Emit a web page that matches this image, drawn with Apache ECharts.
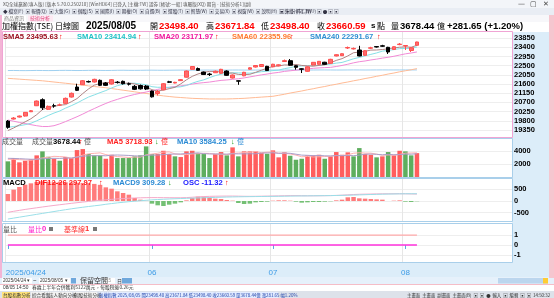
<!DOCTYPE html>
<html><head><meta charset="utf-8">
<script src="https://cdn.jsdelivr.net/npm/echarts@6/dist/echarts.min.js"></script>
<style>html,body{margin:0;padding:0;background:#fff;}#c{width:554px;height:298px;}</style>
</head><body><div id="c"></div>
<script>
// ---------------- DATA ----------------
const dates = ['2025/04/24','2025/04/25','2025/04/28','2025/04/29','2025/04/30',
'2025/05/02','2025/05/05','2025/05/06','2025/05/07','2025/05/08','2025/05/09','2025/05/12','2025/05/13','2025/05/14','2025/05/15','2025/05/16','2025/05/19','2025/05/20','2025/05/21','2025/05/22','2025/05/23','2025/05/26','2025/05/27','2025/05/28','2025/05/29',
'2025/06/02','2025/06/03','2025/06/04','2025/06/05','2025/06/06','2025/06/09','2025/06/10','2025/06/11','2025/06/12','2025/06/13','2025/06/16','2025/06/17','2025/06/18','2025/06/19','2025/06/20','2025/06/23','2025/06/24','2025/06/25','2025/06/26','2025/06/27','2025/06/30',
'2025/07/01','2025/07/02','2025/07/03','2025/07/04','2025/07/07','2025/07/08','2025/07/09','2025/07/10','2025/07/11','2025/07/14','2025/07/15','2025/07/16','2025/07/17','2025/07/18','2025/07/21','2025/07/22','2025/07/23','2025/07/24','2025/07/25','2025/07/28','2025/07/29','2025/07/30','2025/07/31',
'2025/08/01','2025/08/04','2025/08/05'];
const futureSlots = ['f1','f2','f3','f4','f5','f6','f7','f8','f9','f10','f11','f12','f13','f14','f15','f16'];

const openP = [19788,19886,19984,20033,20244,20538,20832,20361,20538,20572,20655,20964,21454,21567,21723,21699,21782,21650,21601,21694,21733,21611,21488,21527,21503,21258,21135,21317,21709,21650,21767,21934,22321,22360,22189,22091,22154,22125,22238,21896,21758,22003,22327,22434,22458,22468,22444,22493,22703,22743,22498,22346,22223,22532,22566,22669,22615,22973,22988,23365,23321,23267,23007,23355,23434,23473,23399,23291,23532,23463,23243,23498.40];
const highP = [19837,19984,20057,20229,20327,20792,20900,20547,20636,20645,20939,21184,21616,21797,21772,21861,21821,21699,21846,21748,21772,21674,21552,21576,21552,21282,21307,21650,21758,21709,21846,22262,22483,22409,22213,22150,22262,22346,22272,22067,21772,22199,22420,22532,22581,22493,22591,22566,22801,22826,22522,22370,22468,22679,22728,22689,22836,23061,23105,23438,23389,23473,23257,23424,23463,23522,23424,23448,23610,23512,23389,23671.84];
const lowP = [19410,19861,19959,20008,20229,20523,20327,20327,20440,20523,20621,20939,21258,21552,21674,21674,21503,21503,21576,21625,21576,21527,21307,21331,21307,20939,21037,21297,21650,21635,21748,21919,22311,22248,22042,21993,22140,22115,22003,21871,21562,21984,22311,22409,22434,22238,22424,22468,22689,22507,22302,22140,22199,22517,22557,22542,22601,22958,22973,23316,23291,22958,22993,23316,23389,23424,23071,23277,23502,23267,23169,23498.40];
const closeP = [19479,19935,20033,20214,20293,20768,20440,20508,20528,20577,20900,21145,21292,21763,21704,21831,21537,21537,21812,21674,21616,21596,21341,21366,21356,20974,21233,21616,21689,21684,21816,22238,22458,22272,22066,22066,22228,22321,22027,22042,21743,22175,22396,22508,22557,22262,22571,22542,22747,22522,22419,22326,22444,22664,22713,22566,22811,23037,23086,23389,23345,22973,23233,23375,23414,23453,23169,23429,23556,23487,23378.94,23660.59];

const sma5 = [19320,19450,19600,19750,19900,20100,20350,20445,20507,20564,20591,20732,20888,21135,21361,21547,21625,21674,21684,21678,21635,21647,21608,21519,21455,21327,21254,21309,21374,21439,21608,21809,21977,22094,22170,22220,22218,22191,22142,22137,22072,22062,22077,22173,22276,22380,22459,22488,22536,22529,22560,22511,22492,22475,22513,22543,22640,22758,22843,22978,23134,23166,23205,23263,23268,23290,23329,23368,23404,23419,23404,23495.63];
const sma10 = [19480,19520,19560,19610,19680,19800,19930,20060,20180,20280,20420,20540,20670,20820,20963,21069,21179,21281,21410,21520,21591,21636,21641,21601,21567,21471,21441,21448,21436,21447,21467,21531,21643,21734,21805,21914,22013,22084,22118,22153,22146,22140,22134,22157,22206,22226,22260,22282,22354,22402,22470,22485,22490,22505,22521,22551,22575,22625,22659,22746,22838,22903,22982,23053,23123,23212,23247,23287,23334,23343,23347,23414.94];
const sma20 = [19840,19780,19720,19670,19610,19560,19520,19520,19560,19650,19760,19880,20000,20130,20270,20400,20530,20650,20760,20850,20940,21020,21090,21150,21210,21270,21340,21390,21440,21480,21510,21550,21600,21640,21670,21697,21740,21780,21800,21830,21860,21900,21950,22000,22050,22090,22137,22170,22220,22250,22280,22312,22340,22370,22390,22405,22418,22460,22510,22570,22640,22694,22730,22780,22820,22870,22911,22960,23020,23080,23120,23171.97];
const sma60 = [21880,21860,21840,21820,21800,21780,21760,21730,21700,21670,21640,21610,21580,21550,21510,21480,21450,21420,21380,21340,21300,21260,21220,21180,21140,21100,21060,21020,20990,20960,20940,20920,20900,20890,20880,20870,20870,20870,20870,20880,20890,20900,20920,20940,20960,20980,21000,21050,21100,21160,21210,21260,21320,21370,21430,21480,21540,21590,21650,21700,21760,21810,21870,21920,21980,22030,22090,22140,22200,22250,22300,22355.96];
const sma240 = [22262,22265,22260,22258,22262,22266,22263,22260,22262,22268,22270,22266,22262,22265,22270,22272,22268,22265,22268,22274,22276,22272,22270,22273,22278,22280,22276,22274,22277,22281,22283,22280,22278,22281,22285,22286,22283,22281,22284,22287,22288,22285,22283,22285,22288,22290,22287,22285,22286,22289,22290,22288,22286,22287,22290,22291,22289,22287,22288,22290,22292,22290,22288,22289,22291,22292,22291,22290,22291,22292,22291,22291.67];

const volume = [2445,2940,2295,2535,2745,3345,3945,3135,2835,2535,3090,2940,4140,4290,3540,3345,3285,2835,3435,2940,2940,2940,3195,3345,4695,3540,3540,4035,3540,3195,3090,3945,4035,3690,3540,2940,3540,3840,3345,4545,3195,3945,3945,3945,3690,3585,4095,3045,3795,3285,2685,2835,3345,3345,3435,2835,3195,3840,3435,3795,3195,4440,3540,3435,3045,3195,3840,3345,4035,3945,3345,3678.44];
const volUp = [0,1,1,1,1,1,0,0,1,0,1,1,1,1,0,0,0,1,1,0,0,0,0,0,0,0,1,1,1,0,1,1,1,0,0,0,1,1,0,1,0,1,1,1,1,0,1,1,1,0,0,0,1,1,1,0,1,1,1,1,0,0,1,1,0,1,0,1,1,0,0,1];
const volMA5 = [2750,2750,2700,2650,2600,2770,2970,3040,3200,3160,3110,2910,3110,3380,3580,3650,3720,3460,3290,3170,3090,3020,3090,3070,3420,3540,3660,3830,3870,3570,3480,3460,3560,3590,3660,3630,3530,3510,3440,3640,3690,3770,3800,3920,3740,3820,3850,3670,3640,3560,3380,3130,3190,3100,3130,3160,3230,3330,3310,3430,3660,3740,3680,3680,3530,3350,3410,3370,3490,3670,3700,3718.93];
const volMA10 = [2900,2880,2850,2800,2760,2760,2830,2870,2900,2880,2940,2940,3070,3210,3290,3290,3310,3280,3370,3400,3370,3330,3280,3220,3360,3380,3390,3460,3520,3540,3550,3630,3660,3720,3610,3560,3560,3550,3530,3580,3570,3570,3580,3580,3690,3710,3730,3650,3690,3650,3520,3380,3350,3300,3330,3280,3250,3310,3300,3330,3300,3380,3520,3540,3500,3430,3500,3430,3460,3530,3520,3584.25];

const dif = [-483,-440,-400,-360,-325,-290,-255,-222,-190,-160,-130,-100,-72,-45,-18,8,30,50,70,90,105,118,128,136,142,145,145,142,140,138,138,145,160,175,188,198,204,208,210,210,206,200,198,200,204,208,213,218,224,228,228,225,222,222,224,227,231,238,248,262,276,286,292,297,302,306,307,309,311,308,303,297.97];
const macd9 = [-770,-730,-690,-650,-610,-570,-530,-490,-450,-410,-372,-335,-300,-267,-235,-205,-177,-140,-110,-80,-55,-30,-8,12,30,48,62,75,86,96,105,113,122,130,138,146,154,161,168,174,179,183,186,189,192,195,198,201,205,209,213,216,219,222,225,228,231,235,240,246,253,261,269,277,284,291,297,301,305,308,309,309.28];
const osc = [299,484,598,697,754,811,840,825,811,811,797,785,780,770,760,730,690,583,526,413,342,270,128,57,10,-114,-185,-213,-157,-114,-57,28,128,185,185,157,100,85,43,14,-85,-128,-114,-57,-43,-28,14,28,28,14,-28,-71,-57,-43,-43,-28,-14,28,57,157,170,114,100,85,70,57,0,14,28,-28,-43,-11.32];

const volRatio = [0,0,0,0,0,0,0,0,0,0,0,0,0,0,0,0,0,0,0,0,0,0,0,0,0,0,0,0,0,0,0,0,0,0,0,0,0,0,0,0,0,0,0,0,0,0,0,0,0,0,0,0,0,0,0,0,0,0,0,0,0,0,0,0,0,0,0,0,0,0,0,0];
const baseLine = [1,1,1,1,1,1,1,1,1,1,1,1,1,1,1,1,1,1,1,1,1,1,1,1,1,1,1,1,1,1,1,1,1,1,1,1,1,1,1,1,1,1,1,1,1,1,1,1,1,1,1,1,1,1,1,1,1,1,1,1,1,1,1,1,1,1,1,1,1,1,1,1];

const priceTicks = [19350,19800,20250,20700,21150,21600,22050,22500,22950,23400,23850];
const volTicks = [2000,4000];
const macdTicks = [-500,0,500];
const ratioTicks = [-1,0,1];

// ---------------- CHART ----------------
const cats = dates.concat(futureSlots);
const last = a => a[a.length-1];
const f2 = v => Number(v).toFixed(2);
// month-start slots that get a label (a month start too close to the first, full-date label is skipped)
const ms = new Set([0]);
dates.forEach((d,i)=>{ if(i>0 && d.slice(5,7)!==dates[i-1].slice(5,7) && i>=10) ms.add(i); });
const isMs = (i)=>ms.has(i);

const GL = 5, GW = 507;
const grids = [
  {left:GL, width:GW, top:32, height:105},
  {left:GL, width:GW, top:139, height:38.6},
  {left:GL, width:GW, top:179, height:42},
  {left:GL, width:GW, top:224, height:38}
].map(g=>Object.assign({show:false, containLabel:false, outerBoundsMode:'none'}, g));

function xa(g, bottom){
  return {type:'category', gridIndex:g, data:cats, boundaryGap:true,
    axisLine:{show:false},
    axisTick:{show:bottom, alignWithLabel:true, interval:isMs, length:4, lineStyle:{color:'#5aa8e0'}},
    axisLabel:{show:bottom, interval:isMs, hideOverlap:false, color:'#3d9be6', fontSize:8, fontFamily:'Liberation Sans', margin:7,
      formatter:(v,i)=> i===0 ? '{f|'+v+'}' : v.slice(5,7),
      rich:{f:{padding:[0,0,0,36], color:'#3d9be6', fontSize:8, fontFamily:'Liberation Sans'}}},
    splitLine:{show:true, interval:isMs, lineStyle:{color:'#e6e6e6', width:1}}};
}
function ya(g, min, max, ticks){
  return {type:'value', gridIndex:g, position:'right', min, max, scale:false,
    axisLine:{show:false}, axisTick:{show:false, customValues:ticks},
    axisLabel:{customValues:ticks, formatter:v=>String(v), color:'#000', fontWeight:'bold', fontSize:7.5, fontFamily:'Liberation Sans', margin:2},
    splitLine:{show:true, lineStyle:{color:'#eeeeee', width:1}}};
}
function line(name, data, color, xi, w){
  return {type:'line', name, data, xAxisIndex:xi, yAxisIndex:xi, symbol:'none', silent:true,
    lineStyle:{color, width:w||1}, z:3};
}

// graphic helpers
const R = (x,y,w,h,fill,z)=>({type:'rect', shape:{x,y,width:w,height:h}, style:{fill}, z:(z==null?-5:z), silent:true});
const F = (x,y,w,h,stroke)=>({type:'rect', shape:{x,y,width:w,height:h}, style:{fill:'none', stroke, lineWidth:1}, z:40, silent:true});
const T = (x,y,text,fill,font,z)=>({type:'text', x, y, style:{text, fill, font, verticalAlign:'middle'}, z:(z==null?50:z), silent:true});
const LAT = 'bold 7.6px "Liberation Sans"';
const HB = 'bold 9.5px "Liberation Sans"';
const CJ = (s)=> s+'px "Noto Sans CJK TC"';

const els = [
  R(0,0,554,8,'#f3f5f9'), R(0,8,554,7,'#e9edf4'), R(0,15,554,7,'#f7f7fa'),
  R(512,32,37,246,'#dcedf9'), R(2,262,510,15,'#dcedf9'),
  R(0,277,554,7,'#e6f1fb'), R(0,291,554,7,'#dde2ea'),
  R(0,15,2,263,'#f3b5d5'), R(549,15,5,263,'#f5c6cf'),
  R(0,284,554,0.8,'#f2a7b5'),
  F(2.5,31.5,510,106,'#f0a4d4'), F(2.5,138.5,510,39,'#a9cfea'), F(2.5,178.5,510,43,'#a9cfea'), F(2.5,223.5,510,39,'#a9cfea'),
  T(3,4,'XQ全球贏家(專人版) [版本 5.70.0.250210] [WinHD64] 已登入 [主機:TW] 證券 [帳號:一般] 專屬版(XQ) 期貨 - [技術分析1](副)','#555',CJ(4.6)),
  T(518,4,'—','#444','7px "DejaVu Sans"'), T(530,4,'▢','#444','7px "DejaVu Sans"'), T(543,4,'✕','#444','7px "DejaVu Sans"'),
  T(3,11.5,'◆ 檔案(F)  ▣ 報價(Q)  ▣ 大盤(G)  ▣ 個股(S)  ▣ 國際(I)  ▣ 期權(O)  ▣ 自選(B)  ▣ 選股(T)  ▣ 智慧(W)  ▣ 交易(X)  ▣ 視窗(W)  ▣ 說明(H)  ▣ 外掛  TSE.TW','#334',CJ(4.6)),
  T(280,11.5,'▣ ▣ 分析工具(U) ▣ ● ▣ ▣','#334',CJ(4.6)),
  R(2,15.5,24,6,'#ffffff',1), T(4,18.5,'商品資訊','#777',CJ(5)),
  R(28,15.5,25,6,'#fde9f2',1), T(30,18.5,'技術分析','#e0407a',CJ(5)),
  T(2,26,'加權指數(TSE)','#000',CJ(8)),
  T(55,26,'日線圖','#000',CJ(8)),
  T(86,26,dates[dates.length-1],'#000','bold 10px "Liberation Sans"'),
  T(150,26,'開','#000',CJ(8)), T(159,26,f2(last(openP)),'#ff0000',HB),
  T(206,26,'高','#000',CJ(8)), T(215,26,f2(last(highP)),'#ff0000',HB),
  T(261,26,'低','#000',CJ(8)), T(270,26,f2(last(lowP)),'#ff0000',HB),
  T(317,26,'收','#000',CJ(8)), T(326,26,f2(last(closeP)),'#ff0000',HB),
  T(371,26,'s','#000','bold 8px "Liberation Sans"'), T(377,26,'點','#000',CJ(8)),
  T(391,26,'量','#000',CJ(8)), T(400,26,f2(last(volume)),'#000',HB), T(437,26,'億','#000',CJ(8)),
  T(447,26,'+'+f2(last(closeP)-closeP[closeP.length-2])+' (+'+f2((last(closeP)/closeP[closeP.length-2]-1)*100)+'%)','#000',HB),
  T(3,36.5,'SMA5 '+f2(last(sma5)),'#9b1020',LAT), T(59,36.5,'↑','#ff0000',LAT),
  T(77,36.5,'SMA10 '+f2(last(sma10)),'#1fc2c6',LAT), T(138,36.5,'↑','#ff0000',LAT),
  T(154,36.5,'SMA20 '+f2(last(sma20)),'#f0169c',LAT), T(215,36.5,'↑','#ff0000',LAT),
  T(232,36.5,'SMA60 '+f2(last(sma60)),'#ff7a2e',LAT), T(290,36.5,'↑','#ff0000',LAT),
  T(310,36.5,'SMA240 '+f2(last(sma240)),'#2e8fd2',LAT), T(377,36.5,'↑','#ff0000',LAT),
  T(2,141.8,'成交量','#555',CJ(7)), T(32,141.8,'成交量','#555',CJ(7)),
  T(53,141.8,f2(last(volume)),'#000',LAT), T(79,141.8,'↑','#ff0000',LAT), T(84,141.8,'億','#555',CJ(7)),
  T(107,141.8,'MA5 '+f2(last(volMA5)),'#ff2020',LAT), T(155,141.8,'↓','#1a9a1a',LAT), T(161,141.8,'億','#ff2020',CJ(7)),
  T(177,141.8,'MA10 '+f2(last(volMA10)),'#2a8ad4',LAT), T(231,141.8,'↓','#1a9a1a',LAT), T(237,141.8,'億','#2a8ad4',CJ(7)),
  T(3,182.5,'MACD','#000',LAT),
  T(35,182.5,'DIF12-26 '+f2(last(dif)),'#ff2020',LAT), T(99,182.5,'↑','#ff0000',LAT),
  T(113,182.5,'MACD9 '+f2(last(macd9)),'#2a8ad4',LAT), T(168,182.5,'↓','#1a9a1a',LAT),
  T(183,182.5,'OSC '+f2(last(osc)),'#1a1aff',LAT), T(225,182.5,'↑','#ff0000',LAT),
  T(3,229,'量比','#555',CJ(7)),
  T(28,229,'量比','#ff22cc',CJ(7)), T(42,229,String(last(volRatio)),'#ff22cc',LAT), R(49,227,4,4,'#777',50),
  T(64,229,'基準線','#ff3030',CJ(7)), T(85,229,String(last(baseLine)),'#ff3030',LAT), R(93,227,4,4,'#777',50),
  R(2,278,30,5.5,'#ffffff',1), T(3,280.8,dates[0],'#333','4.6px "Liberation Sans"'), T(27,280.8,'▾','#333','5px "DejaVu Sans"'),
  T(33,280.8,'~','#333','6px "Liberation Sans"'),
  R(39,278,31,5.5,'#ffffff',1), T(40,280.8,dates[dates.length-1],'#333','4.6px "Liberation Sans"'), T(65,280.8,'▾','#333','5px "DejaVu Sans"'),
  R(71,278,5,5.5,'#6fa8dc',1),
  T(80,280.8,'保留空間','#333',CJ(7)),
  R(104,278,11,5.5,'#ffffff',1), T(106,280.8,'15','#999','4.6px "Liberation Sans"'),
  T(117,280.8,'日','#333',CJ(5)), R(122,278,10,5.5,'#6fa8dc',1),
  R(498,278,50,5.5,'#bcd6ee',1), R(543,278,5,5.5,'#ffcc33',2),
  T(3,287.6,'08/05 14:50','#333','4.8px "Liberation Sans"'),
  T(32,287.6,'春霖上半年合併獲利5122萬元，每股稅後0.26元','#333',CJ(4.8)),
  R(2,292,28,6,'#ffe27a',1), T(3,295,'台股指數分析','#333',CJ(4.6)),
  R(31,292,16,6,'#f2f2f2',1), T(32,295,'綜合看盤','#333',CJ(4.6)),
  R(48,292,24,6,'#f2f2f2',1), T(49,295,'法人動向分析','#333',CJ(4.6)),
  R(73,292,24,6,'#f2f2f2',1), T(74,295,'個股技術分析','#333',CJ(4.6)),
  R(98,292,180,6,'#e3ecff',1),
  T(99,295,'加權指數 2025/08/05 開23498.40 高23671.84 低23498.40 收23660.59 量3678.44億 漲281.65 幅1.20%','#2244aa',CJ(4.4)),
  T(407,295,'主畫面  主畫面  副畫面  主畫面(B)  ▣  ▣  ●  輸入  ▣  編輯  ▣  ▣  14:50:32','#333',CJ(4.4))
];

const chart = echarts.init(document.getElementById('c'), null, {renderer:'canvas'});
chart.setOption({
  animation:false,
  backgroundColor:'#ffffff',
  grid: grids,
  xAxis:[xa(0,false), xa(1,false), xa(2,false), xa(3,true)],
  yAxis:[ya(0,19007,24149,priceTicks), ya(1,0,5805,volTicks), ya(2,-854,939,macdTicks), ya(3,-1.72,2.12,ratioTicks)],
  series:[
    line('SMA240', sma240, '#9fd0f0', 0),
    line('SMA60', sma60, '#ffbb95', 0),
    line('SMA20', sma20, '#f28ad6', 0),
    line('SMA10', sma10, '#86e0e6', 0),
    line('SMA5', sma5, '#b08585', 0),
    {type:'candlestick', xAxisIndex:0, yAxisIndex:0, barWidth:4.2, silent:true, z:5,
      data: dates.map((d,i)=>[openP[i], closeP[i], lowP[i], highP[i]]),
      itemStyle:{color:'#ff6b6b', color0:'#000000', borderColor:'#ff5050', borderColor0:'#000000', borderWidth:1}},
    {type:'bar', xAxisIndex:1, yAxisIndex:1, barWidth:4.5, silent:true, z:2,
      data: volume.map((v,i)=>({value:v, itemStyle:{color: volUp[i] ? '#ff5e5e' : '#5eae5e'}}))},
    line('VMA5', volMA5, '#ffb0b0', 1),
    line('VMA10', volMA10, '#ab9fca', 1),
    {type:'bar', xAxisIndex:2, yAxisIndex:2, barWidth:4.5, silent:true, z:2,
      data: osc.map(v=>({value:v, itemStyle:{color: v>=0 ? '#ff7b7b' : '#74c074'}}))},
    line('DIF', dif, '#f6a9c9', 2),
    line('MACD9', macd9, '#9adfe8', 2),
    line('基準線', baseLine, '#ffaaaa', 3, 1.2),
    line('量比', volRatio, '#ff33dd', 3, 1.5)
  ],
  graphic:{elements: els}
});
</script></body></html>
